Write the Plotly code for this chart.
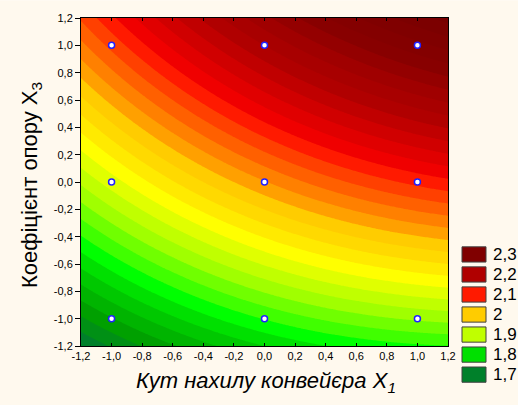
import numpy as np
import plotly.graph_objects as go

# design points (X1 = tilt angle, X3 = resistance coefficient) and response
x1_pts = [-1, 0, 1, -1, 0, 1, -1, 0, 1]
x3_pts = [-1, -1, -1, 0, 0, 0, 1, 1, 1]
y_pts = [1.75, 1.815, 1.858, 1.895, 2.015, 2.105, 2.07, 2.21, 2.28]

tick_vals = [-1.2, -1.0, -0.8, -0.6, -0.4, -0.2, 0.0, 0.2, 0.4, 0.6, 0.8, 1.0, 1.2]
tick_text = ["-1,2", "-1,0", "-0,8", "-0,6", "-0,4", "-0,2", "0,0",
             "0,2", "0,4", "0,6", "0,8", "1,0", "1,2"]

# colour map stops (value -> colour), Statistica-like green-yellow-red;
# each colour marks the upper edge of its band
cmap_vals = [1.56, 1.68, 1.69, 1.73, 1.77, 1.79, 1.81, 1.83, 1.85, 1.87, 1.89,
             1.91, 1.93, 1.96, 1.99, 2.01, 2.03, 2.05, 2.07, 2.09, 2.11, 2.13, 2.15,
             2.17, 2.19, 2.23, 2.27, 2.35]
cmap_cols = ["#105A3A", "#105E38", "#00802A", "#00A000", "#00C800", "#00E000",
             "#00FF00", "#40FF00", "#70FF00", "#A0FF00", "#C0FF00", "#E0FF00", "#FFFF00",
             "#FFE000", "#FFCC00", "#FFA000", "#FF8000", "#FF6000", "#FF4000", "#FF1A00",
             "#F00000", "#E00000", "#D00000", "#C00000", "#B00000", "#A00000", "#880000",
             "#780000"]

legend_labels = ["2,3", "2,2", "2,1", "2", "1,9", "1,8", "1,7"]
legend_cols = ["#800000", "#B00000", "#FF1A00", "#FFCC00", "#C0FF00", "#00E000", "#00802A"]

# quadratic response surface fitted to the design points
a = np.array(x1_pts, float)
b = np.array(x3_pts, float)
A = np.column_stack([np.ones_like(a), a, b, a * b, a ** 2, b ** 2])
coef, *_ = np.linalg.lstsq(A, np.array(y_pts), rcond=None)

g = np.linspace(-1.2, 1.2, 241)
GX, GY = np.meshgrid(g, g)
Z = (coef[0] + coef[1] * GX + coef[2] * GY + coef[3] * GX * GY
     + coef[4] * GX ** 2 + coef[5] * GY ** 2)

c_start, c_end, c_size = 1.58, 2.341, 0.02
n_c = int(np.floor((c_end - c_start) / c_size)) + 1
zmin = c_start - c_size / 2
zmax = c_start + (n_c - 0.5) * c_size
colorscale = [[min(max((v - zmin) / (zmax - zmin), 0), 1), c]
              for v, c in zip(cmap_vals, cmap_cols)]
colorscale[0][0] = 0
colorscale[-1][0] = 1

fig = go.Figure()
fig.add_trace(go.Contour(
    x=g, y=g, z=Z,
    colorscale=colorscale, zmin=zmin, zmax=zmax,
    contours=dict(start=c_start, end=c_end, size=c_size, coloring="fill"),
    line=dict(width=0),
    showscale=False, hoverinfo="skip",
))
fig.add_trace(go.Scatter(
    x=x1_pts, y=x3_pts, mode="markers",
    marker=dict(size=6, color="white", line=dict(color="#2020FF", width=1.5)),
    showlegend=False,
))

# legend boxes
W, H = 367, 334
shapes = []
annotations = []
for i, (lab, col) in enumerate(zip(legend_labels, legend_cols)):
    top = 245 + i * 20.4
    shapes.append(dict(
        type="rect", xref="paper", yref="paper",
        x0=(462 - 81) / W, x1=(486 - 81) / W,
        y0=(346 - top - 15.5) / H, y1=(346 - top) / H,
        fillcolor=col, line=dict(color="#404040", width=1),
    ))
    annotations.append(dict(
        xref="paper", yref="paper", x=(491 - 81) / W, y=(346 - top - 8) / H,
        text=lab, showarrow=False, xanchor="left", yanchor="middle",
        font=dict(size=17, color="black"),
    ))

# white strip at the top of the page
shapes.append(dict(type="rect", xref="paper", yref="paper", x0=-0.3, x1=1.3,
                   y0=(346 + 6) / H, y1=(346 + 14) / H,
                   fillcolor="white", line=dict(width=0), layer="below"))

annotations.append(dict(
    xref="paper", yref="paper", x=(266 - 81) / W, y=(346 - 383) / H,
    text="<i>Кут нахилу конвейєра X<sub>1</sub></i>", showarrow=False,
    xanchor="center", yanchor="middle", font=dict(size=22, color="black"),
))
annotations.append(dict(
    xref="paper", yref="paper", x=(31 - 81) / W, y=(346 - 182) / H,
    text="Коефіцієнт опору X<sub>3</sub>", showarrow=False, textangle=-90,
    xanchor="center", yanchor="middle", font=dict(size=22, color="black"),
))

axis_common = dict(
    range=[-1.2, 1.2], tickvals=tick_vals, ticktext=tick_text,
    showgrid=False, zeroline=False, showline=True, linecolor="black",
    linewidth=1, tickcolor="black",
    tickfont=dict(size=11, color="black"),
)

fig.update_layout(
    width=518, height=405,
    margin=dict(l=81, r=70, t=12, b=59),
    paper_bgcolor="#FFF9EE", plot_bgcolor="#FFF9EE",
    font=dict(family="Arial, Liberation Sans, sans-serif", color="black"),
    xaxis=dict(axis_common, ticks="inside", ticklen=3, mirror="ticks"),
    yaxis=dict(axis_common, ticks="outside", ticklen=5, mirror=True),
    shapes=shapes, annotations=annotations, showlegend=False,
)

fig.write_html("out.html", config={"displayModeBar": False},
               post_script="document.body.style.margin='0';")
